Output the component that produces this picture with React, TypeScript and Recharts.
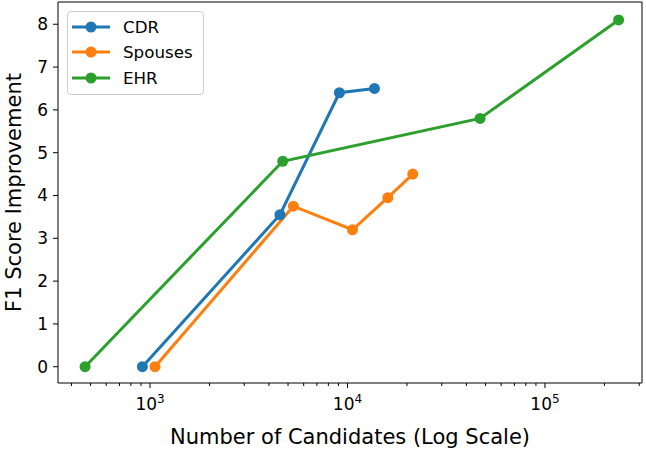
import { LineChart, Line, XAxis, YAxis, Legend, ReferenceArea } from "recharts";

const cdrCandidates = [915, 4550, 9100, 13700];
const cdrF1 = [0, 3.55, 6.4, 6.5];
const spousesCandidates = [1060, 5320, 10600, 16000, 21400];
const spousesF1 = [0, 3.75, 3.2, 3.95, 4.5];
const ehrCandidates = [469, 4700, 46900, 236000];
const ehrF1 = [0, 4.8, 5.8, 8.1];

const majorTicks = [1000, 10000, 100000];
const minorTicks = [
  400, 500, 600, 700, 800, 900,
  2000, 3000, 4000, 5000, 6000, 7000, 8000, 9000,
  20000, 30000, 40000, 50000, 60000, 70000, 80000, 90000,
  200000, 300000,
];
const yTicks = [0, 1, 2, 3, 4, 5, 6, 7, 8];

const X_DOMAIN = [342, 310000];
const Y_DOMAIN = [-0.38, 8.52];

const SERIES = [
  { name: "CDR", color: "#1f77b4", xs: cdrCandidates, ys: cdrF1 },
  { name: "Spouses", color: "#ff7f0e", xs: spousesCandidates, ys: spousesF1 },
  { name: "EHR", color: "#2ca02c", xs: ehrCandidates, ys: ehrF1 },
];

const FONT = "DejaVu Sans, sans-serif";

const XTick = ({ x, y, payload }: any) => {
  const v = payload.value as number;
  const major = majorTicks.includes(v);
  return (
    <g>
      <line x1={x} x2={x} y1={y} y2={y + (major ? 5 : 3)} stroke="#000" strokeWidth={1} />
      {major && (
        <text x={x} y={y + 27} textAnchor="middle" fontFamily={FONT} fontSize={17} fill="#000">
          10
          <tspan dy={-7} fontSize={12}>{Math.round(Math.log10(v))}</tspan>
        </text>
      )}
    </g>
  );
};

const YTick = ({ x, y, payload }: any) => (
  <g>
    <line x1={x - 5} x2={x} y1={y} y2={y} stroke="#000" strokeWidth={1} />
    <text x={x - 10} y={y} dy={6} textAnchor="end" fontFamily={FONT} fontSize={17} fill="#000">
      {payload.value}
    </text>
  </g>
);

const LegendBox = () => (
  <div
    style={{
      border: "1px solid #ccc",
      borderRadius: 4,
      background: "rgba(255,255,255,0.8)",
      padding: "2px 10px 3px 4px",
      fontFamily: FONT,
      fontSize: 16.7,
    }}
  >
    {SERIES.map((s) => (
      <div key={s.name} style={{ display: "flex", alignItems: "center", height: 25.5 }}>
        <svg width={40} height={14} style={{ marginRight: 11 }}>
          <line x1={0} x2={38} y1={7} y2={7} stroke={s.color} strokeWidth={3} />
          <circle cx={19} cy={7} r={5.5} fill={s.color} />
        </svg>
        <span>{s.name}</span>
      </div>
    ))}
  </div>
);

export default function App() {
  return (
    <div style={{ position: "absolute", left: 0, top: 0, background: "#fff" }}>
      <LineChart width={646} height={449} margin={{ top: 2, right: 4, bottom: 0, left: 0 }}>
        <XAxis
          dataKey="x"
          type="number"
          scale="log"
          domain={X_DOMAIN}
          allowDataOverflow
          ticks={[...minorTicks, ...majorTicks]}
          interval={0}
          tick={<XTick />}
          tickLine={false}
          tickSize={0}
          tickMargin={0}
          height={66}
          axisLine={false}
          label={(props: any) => {
            const vb = props.viewBox;
            return (
              <text x={vb.x + vb.width / 2} y={444} textAnchor="middle" fontFamily={FONT} fontSize={21} fill="#000">
                Number of Candidates (Log Scale)
              </text>
            );
          }}
        />
        <YAxis
          type="number"
          domain={Y_DOMAIN}
          allowDataOverflow
          ticks={yTicks}
          interval={0}
          tick={<YTick />}
          tickLine={false}
          tickSize={0}
          tickMargin={0}
          width={58}
          axisLine={false}
          label={(props: any) => {
            const vb = props.viewBox;
            const cy = vb.y + vb.height / 2;
            return (
              <text x={21} y={cy} transform={`rotate(-90, 21, ${cy})`} textAnchor="middle" fontFamily={FONT} fontSize={21} fill="#000">
                F1 Score Improvement
              </text>
            );
          }}
        />
        <ReferenceArea
          x1={X_DOMAIN[0]}
          x2={X_DOMAIN[1]}
          y1={Y_DOMAIN[0]}
          y2={Y_DOMAIN[1]}
          fill="none"
          stroke="#000"
          strokeWidth={1}
          ifOverflow="visible"
        />
        <Legend
          layout="horizontal"
          verticalAlign="middle"
          align="center"
          wrapperStyle={{ position: "absolute", left: 67, top: 11, width: "auto" }}
          content={() => <LegendBox />}
        />
        {SERIES.map((s) => (
          <Line
            key={s.name}
            name={s.name}
            data={s.xs.map((x, i) => ({ x, y: s.ys[i] }))}
            dataKey="y"
            stroke={s.color}
            strokeWidth={3}
            dot={{ r: 5.5, fill: s.color, stroke: s.color, strokeWidth: 0 }}
            activeDot={false}
            isAnimationActive={false}
          />
        ))}
      </LineChart>
    </div>
  );
}
